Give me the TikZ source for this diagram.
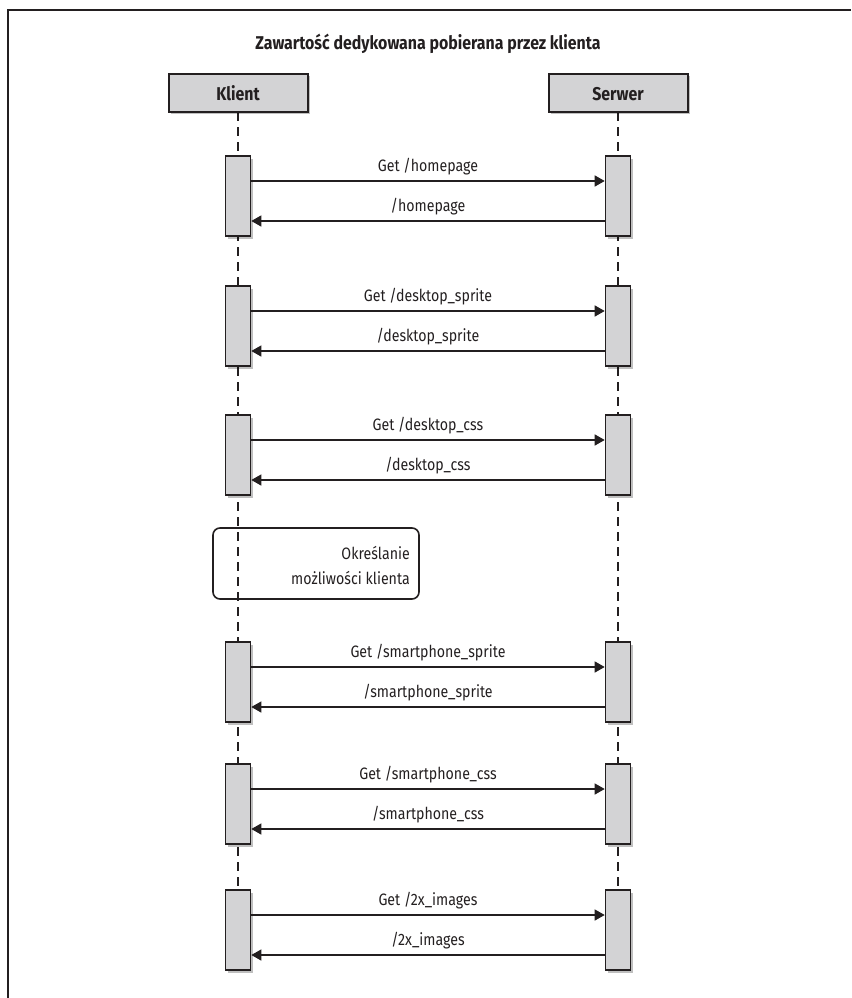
\documentclass[tikz,border=0pt]{standalone}
\usepackage{fontspec}
\setmainfont{Fira Sans}[FakeStretch=0.86]
\usetikzlibrary{arrows.meta,shadows}
\definecolor{ink}{HTML}{231F20}
\definecolor{boxgray}{HTML}{D3D3D5}
\tikzset{
  x=1pt, y=-1pt,
  frameline/.style={draw=ink, line width=2.5pt},
  headbox/.style={draw=ink, line width=2pt, fill=boxgray, minimum width=139pt, minimum height=38pt, inner sep=0pt,
    drop shadow={shadow xshift=2.5pt, shadow yshift=-2.5pt, opacity=0.25, fill=black}},
  actbox/.style={draw=ink, line width=1.6pt, fill=boxgray, minimum width=25pt, minimum height=80pt, inner sep=0pt,
    drop shadow={shadow xshift=2.5pt, shadow yshift=-2.5pt, opacity=0.25, fill=black}},
  lifeline/.style={draw=ink, line width=1.3pt, dash pattern=on 9pt off 6pt},
  msg/.style={draw=ink, line width=1.3pt, -{Triangle[length=10pt, width=11pt]}},
  lbl/.style={font=\fontsize{16.5}{19}\selectfont, text=ink, inner sep=0pt},
  hlbl/.style={font=\fontsize{18.5}{22}\selectfont\bfseries, text=ink, inner sep=0pt},
  notebox/.style={draw=ink, line width=1.6pt, rounded corners=7pt, minimum width=206pt, minimum height=71pt, inner sep=0pt},
}
\begin{document}
\begin{tikzpicture}
\useasboundingbox (0,0) rectangle (851,998);
% frame
\coordinate (fbl) at (8,998);
\coordinate (ftl) at (8,10);
\coordinate (ftr) at (851,10);
\draw[frameline] (fbl) -- (ftl) -- (ftr);
% title
\node[hlbl, anchor=base] (title) at (428,50) {Zawartość dedykowana pobierana przez klienta};
% lifelines
\coordinate (cend) at (238,970);
\coordinate (send) at (618,970);
\coordinate (cstart) at (238,112);
\coordinate (sstart) at (618,112);
\draw[lifeline] (cstart) -- (cend);
\draw[lifeline] (sstart) -- (send);
% headers
\node[headbox] (klient) at (238,92.5) {};
\node[hlbl, anchor=base] (klientt) at (238,100) {Klient};
\node[headbox] (serwer) at (618,92.5) {};
\node[hlbl, anchor=base] (serwert) at (618,100) {Serwer};
% groups
\foreach \i/\t/\req/\res in {1/156/{Get /homepage}/{/homepage},
  2/286/{Get /desktop\_sprite}/{/desktop\_sprite},
  3/415/{Get /desktop\_css}/{/desktop\_css},
  4/642/{Get /smartphone\_sprite}/{/smartphone\_sprite},
  5/764/{Get /smartphone\_css}/{/smartphone\_css},
  6/890/{Get /2x\_images}/{/2x\_images}}{
  \node[actbox] (ca\i) at (238,\t+40) {};
  \node[actbox] (sa\i) at (618,\t+40) {};
  \node[lbl, anchor=base] (rq\i) at (428,\t+15) {\req};
  \node[lbl, anchor=base] (rs\i) at (428,\t+55) {\res};
  \draw[msg] (ca\i.east |- 0,\t+25) -- (sa\i.west |- 0,\t+25);
  \draw[msg] (sa\i.west |- 0,\t+65) -- (ca\i.east |- 0,\t+65);
}
% note
\node[notebox] (note) at (316,563.5) {};
\node[lbl, anchor=base east] (note1) at (410,559) {Określanie};
\node[lbl, anchor=base east] (note2) at (410,584) {możliwości klienta};
\end{tikzpicture}
\end{document}
